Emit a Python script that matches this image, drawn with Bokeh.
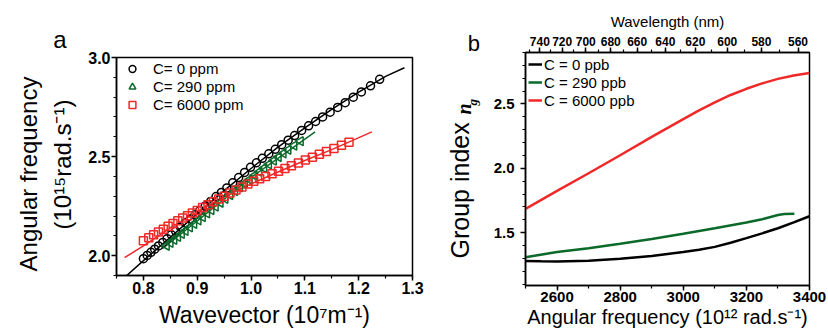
import numpy as np
from bokeh.plotting import figure
from bokeh.models import (Range1d, LinearAxis, SingleIntervalTicker, FixedTicker, Legend,
                          LegendItem, CustomJSTickFormatter, Label, PrintfTickFormatter)
from bokeh.layouts import row, column
from bokeh.embed import file_html
from bokeh.resources import INLINE

# ---------------- panel a data ----------------
k_c0 = [0.800, 0.807, 0.814, 0.821, 0.828, 0.836, 0.844, 0.852, 0.860, 0.869, 0.878, 0.887,
        0.896, 0.905, 0.915, 0.925, 0.935, 0.945, 0.955, 0.966, 0.977, 0.988, 0.999, 1.010,
        1.021, 1.033, 1.045, 1.057, 1.069, 1.081, 1.094, 1.107, 1.120, 1.133, 1.147, 1.161,
        1.175, 1.190, 1.205, 1.222, 1.239]
w_c0 = [1.985, 2.001, 2.017, 2.033, 2.049, 2.067, 2.086, 2.105, 2.123, 2.144, 2.165, 2.185,
        2.206, 2.228, 2.251, 2.274, 2.298, 2.319, 2.342, 2.368, 2.394, 2.420, 2.446, 2.469,
        2.491, 2.514, 2.537, 2.560, 2.583, 2.606, 2.632, 2.655, 2.677, 2.700, 2.724, 2.748,
        2.772, 2.800, 2.826, 2.857, 2.890]
k_c290 = [0.843, 0.850, 0.857, 0.864, 0.871, 0.878, 0.886, 0.894, 0.902, 0.910, 0.918, 0.926,
          0.934, 0.943, 0.952, 0.961, 0.970, 0.979, 0.988, 0.997, 1.006, 1.015, 1.024, 1.033,
          1.042, 1.051, 1.060, 1.069, 1.080, 1.092]
w_c290 = [2.050, 2.065, 2.080, 2.095, 2.110, 2.125, 2.143, 2.160, 2.178, 2.195, 2.213, 2.230,
          2.248, 2.267, 2.287, 2.306, 2.326, 2.345, 2.365, 2.384, 2.404, 2.423, 2.442, 2.461,
          2.480, 2.498, 2.516, 2.534, 2.555, 2.578]
k_c6000 = [0.800, 0.810, 0.819, 0.828, 0.837, 0.846, 0.855, 0.864, 0.873, 0.882, 0.891, 0.900,
           0.910, 0.920, 0.930, 0.940, 0.950, 0.961, 0.972, 0.983, 0.994, 1.005, 1.016, 1.027,
           1.039, 1.051, 1.063, 1.075, 1.088, 1.101, 1.114, 1.127, 1.140, 1.154, 1.168, 1.182]
w_c6000 = [2.075, 2.091, 2.106, 2.120, 2.134, 2.149, 2.163, 2.176, 2.190, 2.202, 2.215, 2.228,
           2.243, 2.257, 2.272, 2.286, 2.300, 2.316, 2.331, 2.347, 2.362, 2.376, 2.388, 2.400,
           2.413, 2.426, 2.440, 2.454, 2.468, 2.483, 2.497, 2.512, 2.526, 2.541, 2.557, 2.572]
# fitted curves
kf_c0 = [0.769, 0.80, 0.85, 0.90, 0.95, 1.00, 1.05, 1.10, 1.15, 1.20, 1.25, 1.285]
wf_c0 = [1.900, 1.975, 2.093, 2.212, 2.328, 2.440, 2.548, 2.645, 2.738, 2.825, 2.905, 2.948]
kf_c290 = [0.835, 0.90, 1.00, 1.119]
wf_c290 = [2.035, 2.175, 2.395, 2.625]
kf_c6000 = [0.765, 0.80, 0.85, 0.90, 0.95, 1.00, 1.05, 1.10, 1.15, 1.2245]
wf_c6000 = [1.990, 2.050, 2.140, 2.222, 2.296, 2.362, 2.422, 2.480, 2.535, 2.625]

# ---------------- panel b data ----------------
om_0 = [2500, 2550, 2600, 2700, 2800, 2900, 3000, 3050, 3100, 3150, 3200, 3250, 3300, 3350, 3400]
ng_0 = [1.280, 1.278, 1.277, 1.283, 1.297, 1.320, 1.350, 1.368, 1.390, 1.422, 1.458, 1.495,
        1.535, 1.580, 1.628]
om_290 = [2500, 2600, 2700, 2800, 2900, 3000, 3100, 3200, 3250, 3300, 3320, 3352]
ng_290 = [1.310, 1.350, 1.380, 1.415, 1.452, 1.492, 1.535, 1.580, 1.605, 1.638, 1.646, 1.647]
om_6000 = [2500, 2600, 2700, 2800, 2900, 3000, 3050, 3100, 3150, 3200, 3250, 3300, 3350, 3400]
ng_6000 = [1.685, 1.825, 1.962, 2.102, 2.245, 2.383, 2.450, 2.512, 2.570, 2.618, 2.660, 2.695,
           2.722, 2.740]
wavelength_ticks = [740, 720, 700, 680, 660, 640, 620, 600, 580, 560]
wavelength_minor = list(range(750, 555, -10))

BLACK = "#000000"
GREEN = "#0b6a2a"
RED = "#f02828"
FONT = "Liberation Sans"
TWO_PI_C = 1.883651567e6  # 10^12 rad/s * nm
H = 332


def style_axis(ax, size):
    ax.axis_line_width = 1.5
    ax.axis_line_color = "black"
    ax.major_tick_line_width = 1.5
    ax.minor_tick_line_width = 1.2
    ax.major_tick_out = 5
    ax.major_tick_in = 0
    ax.minor_tick_out = 3
    ax.minor_tick_in = 0
    ax.major_label_text_font = FONT
    ax.major_label_text_font_style = "bold"
    ax.major_label_text_font_size = size
    ax.major_label_text_color = "black"
    ax.axis_label_text_font = FONT
    ax.axis_label_text_font_style = "normal"
    ax.axis_label_text_color = "black"


def style_legend(lg):
    lg.border_line_color = None
    lg.background_fill_alpha = 0
    lg.label_text_font = FONT
    lg.label_text_font_size = "15px"
    lg.label_text_color = "black"


def text_strip(x0, x1):
    # a blank strip of the page (page pixel coordinates) that carries outside texts
    f = figure(width=x1 - x0, height=H, output_backend="svg", toolbar_location=None,
               x_range=Range1d(x0, x1), y_range=Range1d(H, 0),
               x_axis_location=None, y_axis_location=None, min_border=0)
    f.grid.visible = False
    f.outline_line_color = None
    return f


def put(f, x, y, text, size, angle=0.0, align="center", font=FONT, style="normal"):
    f.add_layout(Label(x=x, y=y, text=text, angle=angle, text_font=font,
                       text_font_style=style, text_font_size=size, text_align=align,
                       text_baseline="alphabetic", text_color="black"))


# ---------------- left text strip ----------------
sl = text_strip(0, 80)
put(sl, 59.5, 38.5, "a", "24px")
put(sl, 28.3, 173.5, "Angular frequency", "24px", angle=np.pi / 2)
put(sl, 61.7, 164, "(10\u00b9\u2075rad.s\u207b\u00b9)", "24px", angle=np.pi / 2)

# ---------------- panel a ----------------
pa = figure(width=352, height=H, output_backend="svg", toolbar_location=None,
            x_range=Range1d(0.75, 1.3), y_range=Range1d(1.9, 3.0),
            min_border_left=36, min_border_right=20, min_border_top=57, min_border_bottom=57)
pa.grid.visible = False
pa.outline_line_color = "black"
pa.outline_line_width = 1.5
pa.xaxis.ticker = SingleIntervalTicker(interval=0.1, num_minor_ticks=2)
pa.yaxis.ticker = SingleIntervalTicker(interval=0.5, num_minor_ticks=5)
pa.xaxis.formatter = PrintfTickFormatter(format="%.1f")
pa.yaxis.formatter = PrintfTickFormatter(format="%.1f")
style_axis(pa.xaxis[0], "16px")
style_axis(pa.yaxis[0], "16px")
pa.xaxis.major_label_standoff = 1
pa.yaxis.major_label_standoff = 1
pa.xaxis.axis_label = "Wavevector (10\u2077m\u207b\u00b9)"
pa.xaxis.axis_label_text_font_size = "23px"
pa.xaxis.axis_label_standoff = 5

pa.line(kf_c0, wf_c0, line_color=BLACK, line_width=1.5)
pa.line(kf_c290, wf_c290, line_color=GREEN, line_width=1.5)
pa.line(kf_c6000, wf_c6000, line_color=RED, line_width=1.5)
r0 = pa.scatter(k_c0, w_c0, marker="circle", size=8, fill_color=None, line_color=BLACK,
                line_width=1.5)
r290 = pa.scatter(k_c290, w_c290, marker="triangle", angle=np.pi / 2, size=9, fill_color=None,
                  line_color=GREEN, line_width=1.5)
r6000 = pa.scatter(k_c6000, w_c6000, marker="square", size=8, fill_color=None, line_color=RED,
                   line_width=1.5)
lga = Legend(items=[LegendItem(label="C= 0 ppm", renderers=[r0]),
                    LegendItem(label="C= 290 ppm", renderers=[r290]),
                    LegendItem(label="C= 6000 ppm", renderers=[r6000])])
style_legend(lga)
lga.location = "top_left"
lga.margin = 3
lga.padding = 3
lga.glyph_width = 26
lga.glyph_height = 17
lga.label_height = 17
lga.spacing = 1
lga.label_standoff = 8
pa.add_layout(lga)

# ---------------- middle text strip ----------------
sm = text_strip(432, 490)
put(sm, 473.3, 43.3, "b", "22px")
put(sm, 459, 258, "Group index", "25px", angle=np.pi / 2, align="left")
put(sm, 463, 114, "n", "20px", angle=np.pi / 2, align="left",
    font="Liberation Serif", style="bold italic")
put(sm, 472, 105, "g", "13px", angle=np.pi / 2, align="left",
    font="Liberation Serif", style="bold italic")

# ---------------- panel b ----------------
pb = figure(width=338, height=H, output_backend="svg", toolbar_location=None,
            x_range=Range1d(2500, 3400), y_range=Range1d(1.09, 2.9),
            min_border_left=33, min_border_right=19, min_border_top=52, min_border_bottom=47)
pb.grid.visible = False
pb.outline_line_color = "black"
pb.outline_line_width = 1.5
pb.xaxis.ticker = SingleIntervalTicker(interval=200, num_minor_ticks=2)
pb.yaxis.ticker = SingleIntervalTicker(interval=0.5, num_minor_ticks=5)
pb.yaxis.formatter = PrintfTickFormatter(format="%.1f")
style_axis(pb.xaxis[0], "15px")
style_axis(pb.yaxis[0], "15px")
pb.xaxis.major_label_standoff = 1
pb.yaxis.major_label_standoff = 6
pb.xaxis.axis_label = "Angular frequency (10\u00b9\u00b2 rad.s\u207b\u00b9)"
pb.xaxis.axis_label_text_font_size = "20px"
pb.xaxis.axis_label_standoff = 1

top = LinearAxis(
    ticker=FixedTicker(ticks=[TWO_PI_C / l for l in wavelength_ticks],
                       minor_ticks=[TWO_PI_C / l for l in wavelength_minor]),
    formatter=CustomJSTickFormatter(code="return Math.round(%f / tick).toString();" % TWO_PI_C),
    axis_label="Wavelength (nm)")
style_axis(top, "12px")
top.major_label_standoff = 2
top.axis_label_text_font_size = "15px"
top.axis_label_standoff = 4
pb.add_layout(top, "above")

l0 = pb.line(om_0, ng_0, line_color=BLACK, line_width=2.5)
l290 = pb.line(om_290, ng_290, line_color=GREEN, line_width=2.5)
l6000 = pb.line(om_6000, ng_6000, line_color=RED, line_width=2.5)
lgb = Legend(items=[LegendItem(label="C = 0 ppb", renderers=[l0]),
                    LegendItem(label="C = 290 ppb", renderers=[l290]),
                    LegendItem(label="C = 6000 ppb", renderers=[l6000])])
style_legend(lgb)
lgb.location = "top_left"
lgb.margin = 3
lgb.padding = 5
lgb.glyph_width = 14
lgb.glyph_height = 18
lgb.label_height = 18
lgb.spacing = 0
lgb.label_standoff = 2
pb.add_layout(lgb)

# each figure in its own column so that their frames are laid out independently
layout = row(column(sl), column(pa), column(sm), column(pb))
open("out.html", "w").write(file_html(layout, INLINE))
